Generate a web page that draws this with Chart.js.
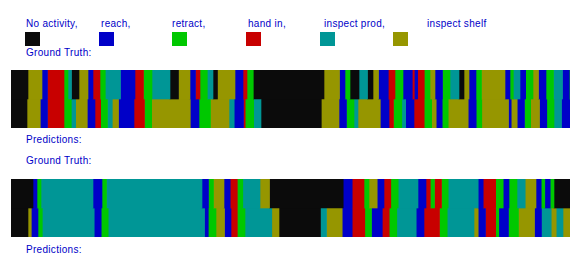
<!DOCTYPE html>
<html>
<head>
<meta charset="utf-8">
<script src="https://cdn.jsdelivr.net/npm/chart.js@4.4.0/dist/chart.umd.min.js"></script>
<style>
  body { margin: 0; background: #fff; width: 581px; height: 278px; position: relative; overflow: hidden; }
  .txt { position: absolute; font-family: "Liberation Sans", Arial, sans-serif; font-size: 10px; line-height: 10px; color: rgb(0, 0, 200); letter-spacing: 0.3px; white-space: nowrap; }
  .sw { position: absolute; width: 15px; height: 14px; top: 32px; }
  canvas { position: absolute; left: 11px; }
</style>
</head>
<body>
<div id="legend"></div>
<div class="txt" style="left:26px; top:48px;">Ground Truth:</div>
<div class="txt" style="left:26px; top:135px;">Predictions:</div>
<div class="txt" style="left:26px; top:156px;">Ground Truth:</div>
<div class="txt" style="left:26px; top:245px;">Predictions:</div>
<canvas id="chart1" width="559" height="58" style="top:70px;"></canvas>
<canvas id="chart2" width="559" height="58" style="top:179px;"></canvas>

<script>
'use strict'

// ************* Data ****************
let classNames = ['No activity,', 'reach,', 'retract,', 'hand in,', 'inspect prod,', 'inspect shelf'];
let classColors = ['#0b0b0b', '#0000c8', '#00c800', '#c80000', '#009696', '#969600'];
let rowNames = ['Ground Truth', 'Predictions'];
let totalFrames = 559;

// each row: segment end frames + class index of each segment
// (0 black, 1 reach, 2 retract, 3 hand in, 4 inspect prod, 5 inspect shelf)
let gt1Ends = [17, 31, 36.5, 53, 57, 60.5, 68, 77, 82, 89, 94.3, 109.5, 124, 132.5, 141, 159, 167.5, 179, 184.5, 189,
  196.3, 202, 206.5, 224, 232, 236, 242.3, 313, 328.5, 334, 339, 348, 356.5, 362, 367.5, 377.3, 384, 392, 401.3, 403.3,
  406.7, 413.3, 419, 424, 431.5, 439, 448, 453, 458, 465, 470.5, 494, 499, 502.3, 509, 514.7, 522, 527.5, 535, 542.5,
  551.5, 558.3, 559];
let gt1Labels = [0, 5, 1, 3, 2, 4, 0, 5, 1, 3, 2, 4, 1, 3, 2, 4, 0, 5, 1, 3,
  2, 4, 0, 5, 1, 3, 2, 0, 5, 1, 2, 0, 4, 0, 5, 1, 3, 2, 1, 3,
  1, 3, 2, 5, 1, 2, 4, 0, 5, 1, 2, 5, 1, 2, 4, 1, 2, 5, 1, 2,
  4, 1, 2];

let pred1Ends = [16, 29.3, 36.5, 53, 60.3, 64.7, 76.3, 84, 89.7, 96.5, 101.3, 107.5, 123, 133.5, 140.7, 179.3, 188, 199.5,
  218, 223.2, 232.5, 234.2, 242.7, 250, 310.3, 328, 335.5, 343, 347, 369.3, 378, 382.5, 390.8, 394.7, 403, 413.2, 420.7,
  425.2, 431.2, 437.2, 457.2, 465.2, 470.8, 497.5, 500.2, 506.2, 513.5, 519.7, 528.5, 535.8, 543, 550.5, 559];
let pred1Labels = [0, 5, 1, 3, 2, 4, 5, 1, 3, 2, 4, 5, 1, 3, 2, 5, 1, 2,
  5, 4, 1, 3, 2, 4, 0, 5, 1, 2, 4, 5, 1, 3, 2, 4, 1, 3, 2,
  5, 1, 2, 5, 1, 2, 5, 1, 5, 1, 2, 5, 1, 2, 4, 1];

let gt2Ends = [22, 26, 30, 82, 91, 95.5, 191, 197.5, 202.5, 213, 219.2, 226.3, 231.8, 249, 258.5, 332.2, 341.2, 353, 358,
  366.2, 373, 379.8, 387.2, 407, 415, 419.3, 423.5, 430.5, 437.2, 467.2, 472.2, 484.7, 492.2, 498, 506, 514.2, 525,
  530.2, 533.8, 539.2, 543, 559];
let gt2Labels = [0, 1, 2, 4, 1, 2, 4, 1, 2, 5, 1, 3, 2, 4, 5, 0, 1, 3, 2,
  5, 1, 3, 2, 4, 1, 3, 2, 3, 2, 4, 1, 3, 2, 1, 2, 4, 5,
  1, 2, 1, 2, 0];

let pred2Ends = [17, 20.3, 27, 31.3, 83.2, 90.2, 97.2, 193.5, 197.3, 205, 213.5, 220, 226.3, 234, 260.8, 268, 309.5, 315.5,
  331.2, 341.2, 353.8, 360.5, 371.3, 378.2, 385.8, 405.2, 413, 428.5, 436.2, 463, 467.2, 474.5, 484.7, 487.8, 497.5,
  507.5, 523.5, 530.5, 540.2, 545.2, 552, 559];
let pred2Labels = [0, 5, 1, 2, 4, 1, 2, 4, 1, 2, 5, 1, 3, 2, 4, 5, 0, 4,
  5, 1, 3, 2, 1, 3, 2, 4, 1, 3, 2, 4, 5, 1, 3, 2, 1,
  2, 5, 1, 4, 5, 4, 5];


// ************* Legend ****************
let legendTextX = [26, 101, 172, 248, 324, 427];
let legendBoxX = [25, 99, 172, 246, 320, 393];
let legendDiv = document.getElementById('legend');
for (let i = 0; i < classNames.length; i++) {
  let t = document.createElement('div');
  t.className = 'txt';
  t.style.left = legendTextX[i] + 'px';
  t.style.top = '19px';
  t.textContent = classNames[i];
  legendDiv.appendChild(t);

  let box = document.createElement('div');
  box.className = 'sw';
  box.style.left = legendBoxX[i] + 'px';
  box.style.background = classColors[i];
  legendDiv.appendChild(box);
}


// ************* Helpers ****************
function makeSegments(ends, labels, rowIndex) {
  let sets = [];
  let start = 0;
  for (let i = 0; i < ends.length; i++) {
    let bar = [start, ends[i]];
    sets.push({
      data: rowIndex === 0 ? [bar, null] : [null, bar],
      backgroundColor: classColors[labels[i]],
      borderWidth: 0,
      barPercentage: 1,
      categoryPercentage: 1
    });
    start = ends[i];
  }
  return sets;
}

function renderBlock(canvas, gtEnds, gtLabels, predEnds, predLabels) {
  return new Chart(canvas, {
    type: 'bar',
    data: {
      labels: rowNames,
      datasets: makeSegments(gtEnds, gtLabels, 0).concat(makeSegments(predEnds, predLabels, 1))
    },
    options: {
      indexAxis: 'y',
      responsive: false,
      animation: false,
      layout: { padding: 0 },
      plugins: {
        legend: { display: false },
        tooltip: { enabled: false }
      },
      scales: {
        x: { type: 'linear', min: 0, max: totalFrames, display: false },
        y: { stacked: true, display: false }
      }
    }
  });
}

renderBlock(document.getElementById('chart1'), gt1Ends, gt1Labels, pred1Ends, pred1Labels);
renderBlock(document.getElementById('chart2'), gt2Ends, gt2Labels, pred2Ends, pred2Labels);
</script>
</body>
</html>
